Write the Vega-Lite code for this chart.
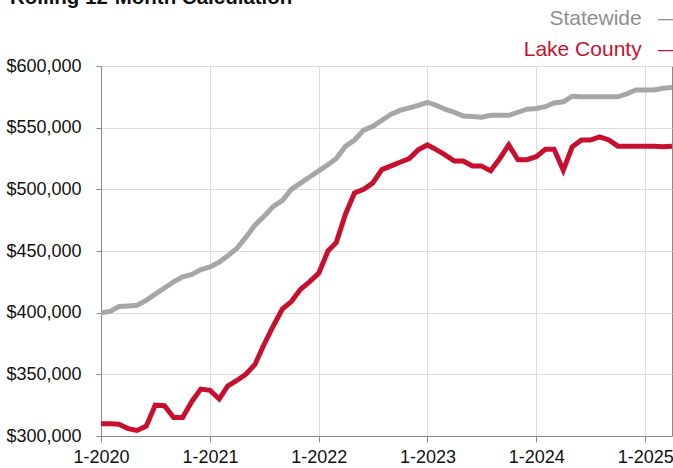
{
  "$schema": "https://vega.github.io/schema/vega-lite/v6.json",
  "width": 571,
  "height": 370,
  "autosize": {"type": "none"},
  "padding": {"left": 101, "top": 66, "right": 1, "bottom": 32},
  "config": {
    "view": {"stroke": "#8a8a8a", "strokeWidth": 1},
    "font": "Liberation Sans"
  },
  "title": {
    "text": "Rolling 12-Month Calculation",
    "anchor": "start",
    "frame": "bounds",
    "fontSize": 20.5,
    "fontWeight": "bold",
    "color": "#111111",
    "font": "Liberation Sans",
    "baseline": "alphabetic",
    "dx": 4,
    "offset": -16
  },
  "datasets": {
    "series": [
      {"month": "2020-01-01", "Statewide": 400000, "Lake County": 310000},
      {"month": "2020-02-01", "Statewide": 401000, "Lake County": 310000},
      {"month": "2020-03-01", "Statewide": 405000, "Lake County": 309500},
      {"month": "2020-04-01", "Statewide": 405500, "Lake County": 306000},
      {"month": "2020-05-01", "Statewide": 406000, "Lake County": 304500},
      {"month": "2020-06-01", "Statewide": 410000, "Lake County": 308000},
      {"month": "2020-07-01", "Statewide": 415000, "Lake County": 325000},
      {"month": "2020-08-01", "Statewide": 420000, "Lake County": 324500},
      {"month": "2020-09-01", "Statewide": 425000, "Lake County": 315000},
      {"month": "2020-10-01", "Statewide": 429000, "Lake County": 315000},
      {"month": "2020-11-01", "Statewide": 431000, "Lake County": 328000},
      {"month": "2020-12-01", "Statewide": 435000, "Lake County": 338000},
      {"month": "2021-01-01", "Statewide": 437000, "Lake County": 337000},
      {"month": "2021-02-01", "Statewide": 441000, "Lake County": 330000},
      {"month": "2021-03-01", "Statewide": 446000, "Lake County": 340500},
      {"month": "2021-04-01", "Statewide": 452000, "Lake County": 345000},
      {"month": "2021-05-01", "Statewide": 461000, "Lake County": 350000},
      {"month": "2021-06-01", "Statewide": 471000, "Lake County": 358000},
      {"month": "2021-07-01", "Statewide": 478000, "Lake County": 374000},
      {"month": "2021-08-01", "Statewide": 486000, "Lake County": 389000},
      {"month": "2021-09-01", "Statewide": 491000, "Lake County": 403000},
      {"month": "2021-10-01", "Statewide": 500000, "Lake County": 409000},
      {"month": "2021-11-01", "Statewide": 505000, "Lake County": 419000},
      {"month": "2021-12-01", "Statewide": 510000, "Lake County": 425000},
      {"month": "2022-01-01", "Statewide": 515000, "Lake County": 432000},
      {"month": "2022-02-01", "Statewide": 520000, "Lake County": 450000},
      {"month": "2022-03-01", "Statewide": 525000, "Lake County": 457000},
      {"month": "2022-04-01", "Statewide": 535000, "Lake County": 480000},
      {"month": "2022-05-01", "Statewide": 540000, "Lake County": 497000},
      {"month": "2022-06-01", "Statewide": 548000, "Lake County": 500000},
      {"month": "2022-07-01", "Statewide": 551000, "Lake County": 505000},
      {"month": "2022-08-01", "Statewide": 556000, "Lake County": 516000},
      {"month": "2022-09-01", "Statewide": 561000, "Lake County": 519000},
      {"month": "2022-10-01", "Statewide": 564000, "Lake County": 522000},
      {"month": "2022-11-01", "Statewide": 566000, "Lake County": 525000},
      {"month": "2022-12-01", "Statewide": 568000, "Lake County": 532000},
      {"month": "2023-01-01", "Statewide": 570500, "Lake County": 536000},
      {"month": "2023-02-01", "Statewide": 568000, "Lake County": 532000},
      {"month": "2023-03-01", "Statewide": 565000, "Lake County": 528000},
      {"month": "2023-04-01", "Statewide": 562500, "Lake County": 523000},
      {"month": "2023-05-01", "Statewide": 559500, "Lake County": 523000},
      {"month": "2023-06-01", "Statewide": 559000, "Lake County": 519000},
      {"month": "2023-07-01", "Statewide": 558500, "Lake County": 519000},
      {"month": "2023-08-01", "Statewide": 560000, "Lake County": 515000},
      {"month": "2023-09-01", "Statewide": 560000, "Lake County": 525000},
      {"month": "2023-10-01", "Statewide": 560000, "Lake County": 536000},
      {"month": "2023-11-01", "Statewide": 562500, "Lake County": 524000},
      {"month": "2023-12-01", "Statewide": 565000, "Lake County": 524000},
      {"month": "2024-01-01", "Statewide": 565500, "Lake County": 526500},
      {"month": "2024-02-01", "Statewide": 567000, "Lake County": 532500},
      {"month": "2024-03-01", "Statewide": 570000, "Lake County": 532500},
      {"month": "2024-04-01", "Statewide": 571000, "Lake County": 515500},
      {"month": "2024-05-01", "Statewide": 575500, "Lake County": 534500},
      {"month": "2024-06-01", "Statewide": 575000, "Lake County": 540000},
      {"month": "2024-07-01", "Statewide": 575000, "Lake County": 540000},
      {"month": "2024-08-01", "Statewide": 575000, "Lake County": 542500},
      {"month": "2024-09-01", "Statewide": 575000, "Lake County": 540000},
      {"month": "2024-10-01", "Statewide": 575000, "Lake County": 535000},
      {"month": "2024-11-01", "Statewide": 577500, "Lake County": 535000},
      {"month": "2024-12-01", "Statewide": 580500, "Lake County": 535000},
      {"month": "2025-01-01", "Statewide": 580500, "Lake County": 535000},
      {"month": "2025-02-01", "Statewide": 580500, "Lake County": 535000},
      {"month": "2025-03-01", "Statewide": 582000, "Lake County": 534500},
      {"month": "2025-04-01", "Statewide": 582500, "Lake County": 535000}
    ]
  },
  "data": {"name": "series"},
  "transform": [
    {"fold": ["Statewide", "Lake County"], "as": ["area", "price"]}
  ],
  "mark": {"type": "line", "strokeWidth": 5, "clip": true},
  "encoding": {
    "x": {
      "field": "month",
      "type": "temporal",
      "scale": {
        "type": "utc",
        "domain": [
          {"year": 2020, "month": 1, "date": 1, "utc": true},
          {"year": 2025, "month": 4, "date": 1, "utc": true}
        ]
      },
      "axis": {
        "title": null,
        "values": [
          {"year": 2020, "month": 1, "date": 1, "utc": true},
          {"year": 2021, "month": 1, "date": 1, "utc": true},
          {"year": 2022, "month": 1, "date": 1, "utc": true},
          {"year": 2023, "month": 1, "date": 1, "utc": true},
          {"year": 2024, "month": 1, "date": 1, "utc": true},
          {"year": 2025, "month": 1, "date": 1, "utc": true}
        ],
        "labelExpr": "utcFormat(datum.value, '%-m-%Y')",
        "labelFont": "Liberation Sans",
        "labelFontSize": 18,
        "labelColor": "#111111",
        "labelPadding": 6,
        "labelFlush": false,
        "tickSize": 6,
        "tickColor": "#8a8a8a",
        "domainColor": "#8a8a8a",
        "gridColor": "#dcdcdc",
        "grid": true
      }
    },
    "y": {
      "field": "price",
      "type": "quantitative",
      "scale": {"domain": [300000, 600000], "nice": false, "zero": false},
      "axis": {
        "title": null,
        "values": [300000, 350000, 400000, 450000, 500000, 550000, 600000],
        "format": "$,.0f",
        "labelFont": "Liberation Sans",
        "labelFontSize": 18,
        "labelColor": "#111111",
        "labelPadding": 15,
        "tickSize": 5,
        "tickColor": "#8a8a8a",
        "domainColor": "#8a8a8a",
        "gridColor": "#dcdcdc",
        "grid": true
      }
    },
    "color": {
      "field": "area",
      "type": "nominal",
      "scale": {"domain": ["Statewide", "Lake County"], "range": ["#a6a6a6", "#c8102e"]},
      "legend": {
        "title": null,
        "orient": "none",
        "legendX": 449,
        "legendY": -58,
        "symbolOpacity": 0,
        "symbolStrokeWidth": 0,
        "symbolSize": 1,
        "labelAlign": "right",
        "labelOffset": 108,
        "labelLimit": 400,
        "labelFont": "Liberation Sans",
        "labelFontSize": 21,
        "rowPadding": 9,
        "labelExpr": "datum.label + '\u2002\u00a0\u2014'",
        "encode": {
          "labels": {"update": {"fill": {"signal": "datum.value === 'Statewide' ? '#8f8f8f' : '#c8102e'"}}}
        }
      }
    }
  }
}
